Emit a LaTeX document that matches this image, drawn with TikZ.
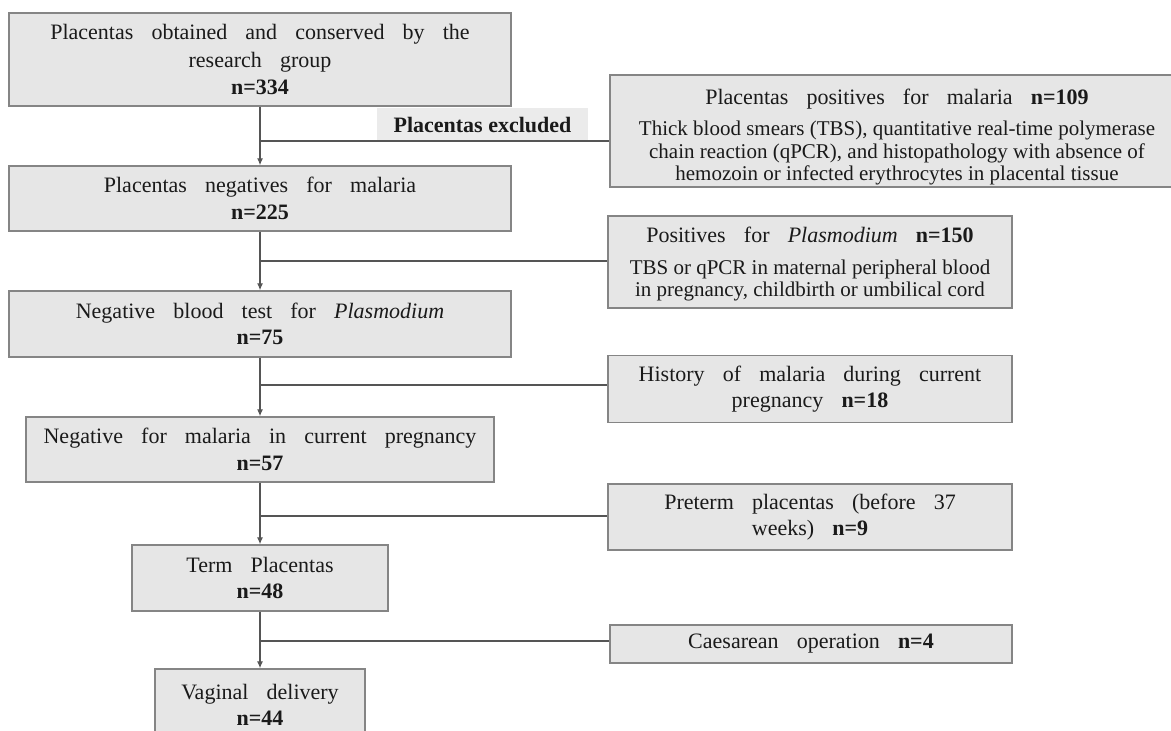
\documentclass[tikz,border=0pt]{standalone}
\usepackage{fontspec}
\setmainfont{Liberation Serif}[WordSpace=3.3]
\newfontfamily\smallf{Liberation Serif}[WordSpace=2.1]
\newfontfamily\tightf{Liberation Serif}
\usetikzlibrary{arrows.meta}
\definecolor{boxfill}{HTML}{E6E6E6}
\definecolor{boxline}{HTML}{858585}
\definecolor{connc}{HTML}{555555}
\definecolor{labelfill}{HTML}{EBEBEB}
\definecolor{txt}{HTML}{1A1A1A}
\begin{document}
\begin{tikzpicture}[x=1pt,y=-1pt,
  box/.style={draw=boxline, fill=boxfill, line width=1.4pt, inner sep=0pt, align=center, text=txt,
    font=\fontsize{22}{26.5}\selectfont},
  smallbox/.style={box, font=\smallf\fontsize{21}{22.5}\selectfont},
  conn/.style={draw=connc, line width=1.2pt},
  arr/.style={conn, -{Latex[length=7pt,width=6pt]}}]
\clip (0,0) rectangle (1171,731);
\fill[white] (0,0) rectangle (1171,731);

% main column
\node[box, minimum width=502pt, minimum height=93pt] (b1) at (260,59.5)
  {Placentas obtained and conserved by the\\[1.5pt] research group\\ \textbf{n=334}};
\node[box, minimum width=502pt, minimum height=65pt] (b2) at (260,198.5)
  {Placentas negatives for malaria\\ \textbf{n=225}};
\node[box, minimum width=502pt, minimum height=66pt] (b3) at (260,324)
  {Negative blood test for \textit{Plasmodium}\\ \textbf{n=75}};
\node[box, minimum width=468pt, minimum height=65pt] (b4) at (260,449.5)
  {Negative for malaria in current pregnancy\\ \textbf{n=57}};
\node[box, minimum width=256pt, minimum height=66pt] (b5) at (260,578)
  {Term Placentas\\ \textbf{n=48}};
\node[box, minimum width=210pt, minimum height=72pt] (b6) at (260,705)
  {Vaginal delivery\\ \textbf{n=44}};

% exclusion boxes
\node[smallbox, minimum width=574pt, minimum height=112pt] (r1) at (897,131)
  {{\rmfamily\fontsize{22}{26.5}\selectfont\rule{0pt}{28pt}Placentas positives for malaria \textbf{n=109}}\\[9pt]
   Thick blood smears (TBS), quantitative real-time polymerase\\
   chain reaction (qPCR), and histopathology with absence of\\
   hemozoin or infected erythrocytes in placental tissue};
\node[smallbox, minimum width=404pt, minimum height=92pt] (r2) at (810,262)
  {{\rmfamily\fontsize{22}{26.5}\selectfont\rule{0pt}{20pt}Positives for \textit{Plasmodium} \textbf{n=150}}\\[9pt]
   TBS or qPCR in maternal peripheral blood\\
   in pregnancy, childbirth or umbilical cord};
\node[box, minimum width=404pt, minimum height=67pt] (r3) at (810,389)
  {History of malaria during current\\ pregnancy \textbf{n=18}};
\node[box, minimum width=404pt, minimum height=66pt] (r4) at (810,517)
  {Preterm placentas (before 37\\ weeks) \textbf{n=9}};
\node[box, minimum width=402pt, minimum height=38pt] (r5) at (811,644)
  {Caesarean operation \textbf{n=4}};

% label
\node[fill=labelfill, minimum width=211pt, minimum height=34pt, inner sep=0pt, text=txt,
  font=\tightf\bfseries\fontsize{22}{26}\selectfont] (ex) at (482.5,125) {Placentas excluded};

% junctions
\coordinate (j1) at (260,141);
\coordinate (j2) at (260,261);
\coordinate (j3) at (260,385);
\coordinate (j4) at (260,516);
\coordinate (j5) at (260,641);

% connectors
\draw[arr] (b1.south) -- (b2.north);
\draw[arr] (b2.south) -- (b3.north);
\draw[arr] (b3.south) -- (b4.north);
\draw[arr] (b4.south) -- (b5.north);
\draw[arr] (b5.south) -- (b6.north);
\draw[conn] (j1) -- (j1 -| r1.west);
\draw[conn] (j2) -- (j2 -| r2.west);
\draw[conn] (j3) -- (j3 -| r3.west);
\draw[conn] (j4) -- (j4 -| r4.west);
\draw[conn] (j5) -- (j5 -| r5.west);
\end{tikzpicture}
\end{document}
